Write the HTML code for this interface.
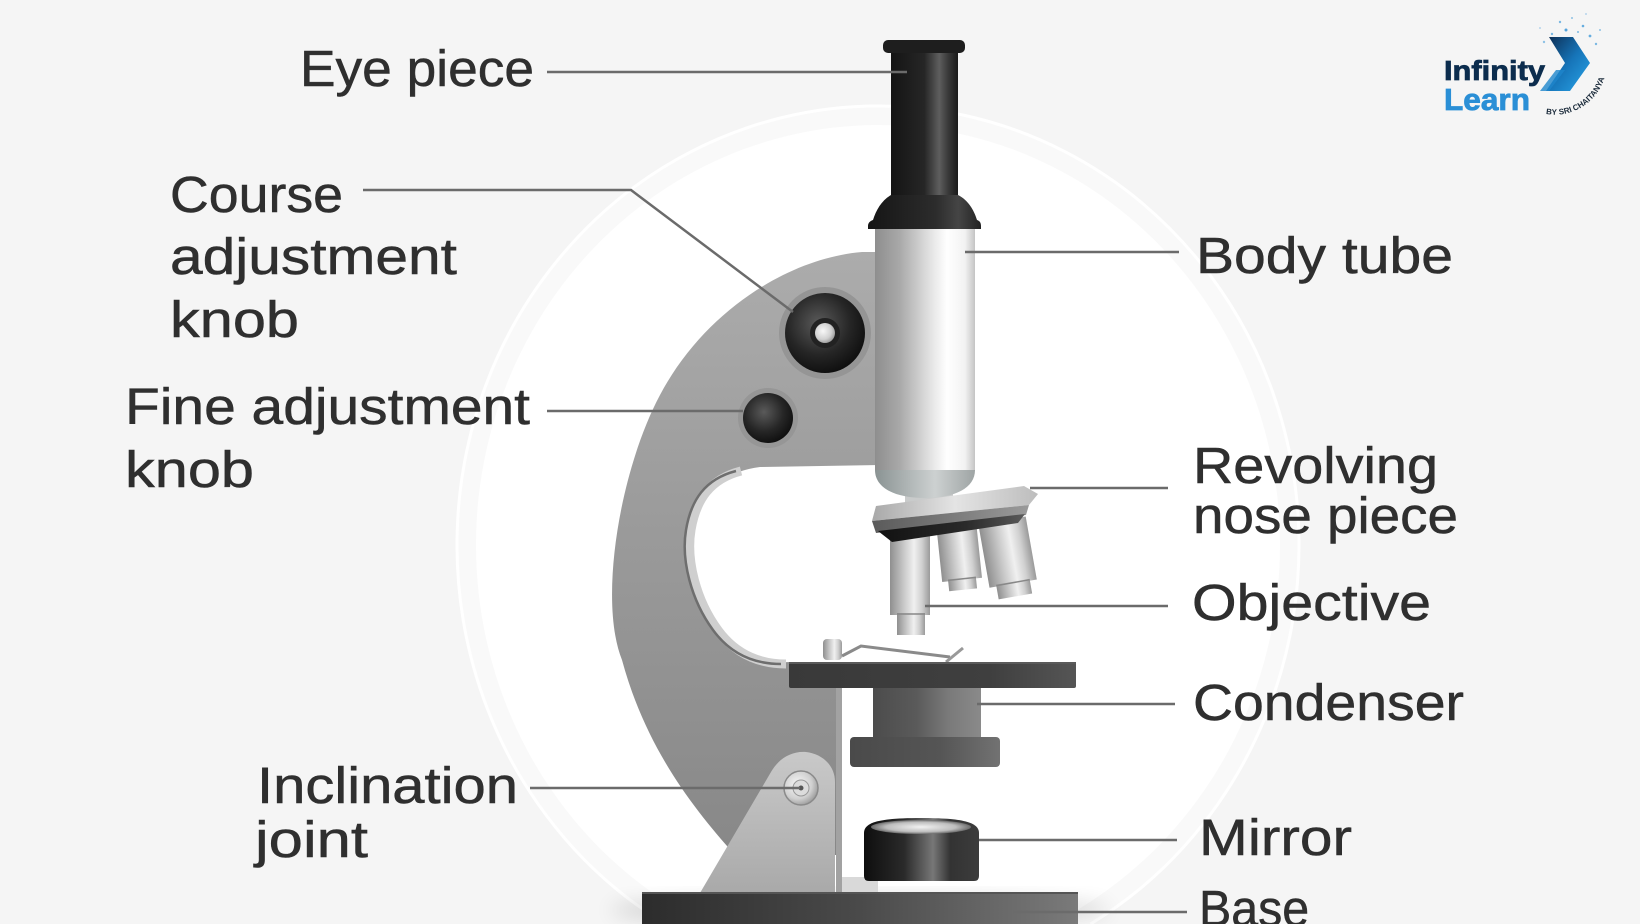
<!DOCTYPE html>
<html>
<head>
<meta charset="utf-8">
<style>
html,body{margin:0;padding:0;background:#f5f5f5;width:1640px;height:924px;overflow:hidden;}
body{position:relative;}
svg{display:block;overflow:hidden;}
text{font-family:"Liberation Sans",sans-serif;}
.base-lbl{position:absolute;left:1199px;top:883px;height:41px;width:130px;overflow:hidden;
  font-family:"Liberation Sans",sans-serif;font-size:51px;line-height:51px;color:#2f2f2f;
  -webkit-text-stroke:0.5px #2f2f2f;white-space:nowrap;transform:scaleX(0.948);transform-origin:0 0;}
</style>
</head>
<body>
<svg width="1640" height="924" viewBox="0 0 1640 924" xmlns="http://www.w3.org/2000/svg">
<defs>
  <clipPath id="frame"><rect x="0" y="0" width="1640" height="924"/></clipPath>
  <linearGradient id="arm" x1="0" y1="250" x2="0" y2="850" gradientUnits="userSpaceOnUse">
    <stop offset="0" stop-color="#acacac"/>
    <stop offset="0.45" stop-color="#9b9b9b"/>
    <stop offset="1" stop-color="#888888"/>
  </linearGradient>
  <linearGradient id="tube" x1="0" y1="0" x2="1" y2="0">
    <stop offset="0" stop-color="#8e8e8e"/>
    <stop offset="0.25" stop-color="#a9a9a9"/>
    <stop offset="0.55" stop-color="#e2e2e2"/>
    <stop offset="0.72" stop-color="#ffffff"/>
    <stop offset="0.9" stop-color="#f2f2f2"/>
    <stop offset="1" stop-color="#c4c4c4"/>
  </linearGradient>
  <linearGradient id="dome" x1="0" y1="0" x2="1" y2="0">
    <stop offset="0" stop-color="#8a9393"/>
    <stop offset="0.6" stop-color="#cdd1d1"/>
    <stop offset="1" stop-color="#9ea4a4"/>
  </linearGradient>
  <linearGradient id="eye" x1="0" y1="0" x2="1" y2="0">
    <stop offset="0" stop-color="#141414"/>
    <stop offset="0.5" stop-color="#262626"/>
    <stop offset="0.72" stop-color="#5e5e5e"/>
    <stop offset="0.85" stop-color="#3a3a3a"/>
    <stop offset="1" stop-color="#1a1a1a"/>
  </linearGradient>
  <linearGradient id="collar" x1="0" y1="0" x2="1" y2="0">
    <stop offset="0" stop-color="#151515"/>
    <stop offset="0.6" stop-color="#2c2c2c"/>
    <stop offset="0.8" stop-color="#454545"/>
    <stop offset="1" stop-color="#222"/>
  </linearGradient>
  <radialGradient id="knob" cx="0.42" cy="0.38" r="0.65">
    <stop offset="0" stop-color="#5a5a5a"/>
    <stop offset="0.6" stop-color="#262626"/>
    <stop offset="1" stop-color="#0e0e0e"/>
  </radialGradient>
  <radialGradient id="screw" cx="0.4" cy="0.4" r="0.7">
    <stop offset="0" stop-color="#f8f8f8"/>
    <stop offset="0.6" stop-color="#d0d0d0"/>
    <stop offset="1" stop-color="#8c8c8c"/>
  </radialGradient>
  <linearGradient id="metal" x1="0" y1="0" x2="1" y2="0">
    <stop offset="0" stop-color="#8f8f8f"/>
    <stop offset="0.35" stop-color="#c9c9c9"/>
    <stop offset="0.6" stop-color="#f0f0f0"/>
    <stop offset="0.8" stop-color="#d0d0d0"/>
    <stop offset="1" stop-color="#9a9a9a"/>
  </linearGradient>
  <linearGradient id="nose" x1="0" y1="0" x2="1" y2="0">
    <stop offset="0" stop-color="#a8a8a8"/>
    <stop offset="0.5" stop-color="#e4e4e4"/>
    <stop offset="1" stop-color="#bdbdbd"/>
  </linearGradient>
  <linearGradient id="noseband" x1="0" y1="0" x2="1" y2="0">
    <stop offset="0" stop-color="#5a5a5a"/>
    <stop offset="1" stop-color="#9a9a9a"/>
  </linearGradient>
  <linearGradient id="noseunder" x1="0" y1="0" x2="1" y2="0">
    <stop offset="0" stop-color="#111"/>
    <stop offset="0.6" stop-color="#2a2a2a"/>
    <stop offset="1" stop-color="#5a5a5a"/>
  </linearGradient>
  <linearGradient id="stage" x1="0" y1="0" x2="1" y2="0">
    <stop offset="0" stop-color="#393939"/>
    <stop offset="0.7" stop-color="#3f3f3f"/>
    <stop offset="1" stop-color="#555"/>
  </linearGradient>
  <linearGradient id="cond" x1="0" y1="0" x2="1" y2="0">
    <stop offset="0" stop-color="#4c4c4c"/>
    <stop offset="0.4" stop-color="#5a5a5a"/>
    <stop offset="0.7" stop-color="#7a7a7a"/>
    <stop offset="1" stop-color="#8a8a8a"/>
  </linearGradient>
  <linearGradient id="cond2" x1="0" y1="0" x2="1" y2="0">
    <stop offset="0" stop-color="#4a4a4a"/>
    <stop offset="0.6" stop-color="#555"/>
    <stop offset="1" stop-color="#727272"/>
  </linearGradient>
  <linearGradient id="mirror" x1="0" y1="0" x2="1" y2="0">
    <stop offset="0" stop-color="#0e0e0e"/>
    <stop offset="0.35" stop-color="#2a2a2a"/>
    <stop offset="0.6" stop-color="#777"/>
    <stop offset="0.75" stop-color="#333"/>
    <stop offset="1" stop-color="#3c3c3c"/>
  </linearGradient>
  <radialGradient id="mirrortop" cx="0.5" cy="0.5" r="0.5">
    <stop offset="0" stop-color="#f2f2f2"/>
    <stop offset="0.7" stop-color="#bdbdbd"/>
    <stop offset="1" stop-color="#6a6a6a"/>
  </radialGradient>
  <linearGradient id="base" x1="0" y1="0" x2="1" y2="0">
    <stop offset="0" stop-color="#2c2c2c"/>
    <stop offset="0.5" stop-color="#4a4a4a"/>
    <stop offset="1" stop-color="#7a7a7a"/>
  </linearGradient>
  <linearGradient id="plate" x1="0" y1="0" x2="0" y2="1">
    <stop offset="0" stop-color="#c9c9c9"/>
    <stop offset="1" stop-color="#a9a9a9"/>
  </linearGradient>
  <linearGradient id="chev" x1="0" y1="0" x2="1" y2="1">
    <stop offset="0" stop-color="#0d2b4f"/>
    <stop offset="0.5" stop-color="#1674b8"/>
    <stop offset="1" stop-color="#2aa6ea"/>
  </linearGradient>
  <filter id="blur" x="-20%" y="-50%" width="140%" height="200%">
    <feGaussianBlur stdDeviation="10"/>
  </filter>
  <path id="arc" d="M 1546 114 A 52 52 0 0 0 1606 54"/>
</defs>

<g clip-path="url(#frame)">
<!-- background -->
<rect x="0" y="0" width="1640" height="924" fill="#f5f5f5"/>
<path d="M 665.5 924 A 421 439 0 1 1 1090.5 924 Z" fill="#f9f9f9"/>
<path d="M 665.5 924 A 421 439 0 1 1 1090.5 924" fill="none" stroke="#ffffff" stroke-width="3"/>
<path d="M 704.7 924 A 402 420 0 1 1 1051.3 924 Z" fill="#ffffff"/>

<!-- base shadow -->
<ellipse cx="860" cy="910" rx="250" ry="12" fill="#000" opacity="0.18" filter="url(#blur)"/>

<!-- arm -->
<path d="M 880 252 L 862 252 C 790 258 705 310 660 395 C 620 470 598 600 622 660 C 645 745 690 805 735 855 L 842 855 L 842 662 L 790 662 C 760 664 738 652 722 630 C 700 600 690 560 695 530 C 700 495 720 472 760 467 L 880 465 Z" fill="url(#arm)"/>
<!-- cutout metallic rim -->
<path d="M 745 471 C 714 479 700 500 695 530 C 690 560 700 600 722 630 C 738 652 760 664 790 664" fill="none" stroke="#cfcfcf" stroke-width="9" transform="translate(-4,0)"/>
<path d="M 745 471 C 714 479 700 500 695 530 C 690 560 700 600 722 630 C 738 652 760 664 790 664" fill="none" stroke="#6e6e6e" stroke-width="2.5" transform="translate(-9,0)"/>

<!-- inclination plate -->
<path d="M 700 893 L 771 772 C 779 758 792 751 806 752 C 823 754 835 766 835 782 L 835 893 Z" fill="url(#plate)"/>
<rect x="836" y="688" width="6" height="205" fill="#a2a2a2"/>
<rect x="842" y="877" width="36" height="16" fill="#d9d9d9"/>
<circle cx="801" cy="788" r="17" fill="url(#screw)" stroke="#8a8a8a" stroke-width="1.5"/>
<circle cx="801" cy="788" r="8" fill="#dcdcdc" stroke="#999" stroke-width="1"/>
<circle cx="801" cy="788" r="2.5" fill="#555"/>

<!-- base -->
<rect x="642" y="892" width="436" height="32" fill="url(#base)"/>
<rect x="642" y="892" width="436" height="2" fill="#555"/>

<!-- mirror -->
<path d="M 864 833 C 864 822 880 818 921 818 C 962 818 979 822 979 833 L 979 876 Q 979 881 974 881 L 869 881 Q 864 881 864 876 Z" fill="url(#mirror)"/>
<ellipse cx="921" cy="827" rx="50" ry="7" fill="url(#mirrortop)"/>

<!-- stage clip -->
<polyline points="842,656 861,646 950,657" fill="none" stroke="#8a8a8a" stroke-width="3"/>
<line x1="963" y1="648" x2="946" y2="662" stroke="#999" stroke-width="3"/>
<rect x="823" y="639" width="19" height="21" rx="4" fill="url(#metal)"/>

<!-- stage -->
<rect x="789" y="662" width="287" height="26" rx="2" fill="url(#stage)"/>
<rect x="789" y="662" width="287" height="2" fill="#5a5a5a"/>

<!-- condenser -->
<rect x="873" y="688" width="108" height="49" fill="url(#cond)"/>
<rect x="850" y="737" width="150" height="30" rx="4" fill="url(#cond2)"/>

<!-- objectives -->
<g transform="rotate(-10 1009 560)">
  <rect x="985" y="520" width="48" height="64" fill="url(#metal)"/>
  <rect x="992" y="582" width="34" height="15" fill="url(#metal)"/>
  <line x1="992" y1="583" x2="1026" y2="583" stroke="#888" stroke-width="1.5"/>
</g>
<g transform="rotate(-6 960 560)">
  <rect x="940" y="528" width="40" height="52" fill="url(#metal)"/>
  <rect x="946" y="578" width="28" height="12" fill="url(#metal)"/>
  <line x1="946" y1="579" x2="974" y2="579" stroke="#888" stroke-width="1.5"/>
</g>
<rect x="890" y="536" width="40" height="79" fill="url(#metal)"/>
<rect x="897" y="613" width="28" height="22" fill="url(#metal)"/>
<line x1="897" y1="614" x2="925" y2="614" stroke="#888" stroke-width="1.5"/>

<!-- body tube -->
<rect x="875" y="225" width="100" height="246" fill="url(#tube)"/>
<rect x="905" y="494" width="48" height="14" fill="#c9cbcb"/>
<path d="M 875 470 L 975 470 C 975 488 955 498 925 498 C 895 498 875 488 875 470 Z" fill="url(#dome)"/>

<!-- nosepiece -->
<polygon points="876,506 1024,486 1038,494 1029,505 872,521" fill="url(#nose)"/>
<polygon points="872,521 1029,505 1026,515 876,533" fill="url(#noseband)"/>
<polygon points="878,531 1025,514 1018,523 892,542" fill="url(#noseunder)"/>

<!-- eyepiece -->
<rect x="891" y="50" width="67" height="150" fill="url(#eye)"/>
<rect x="883" y="40" width="82" height="13" rx="5" fill="#1e1e1e"/>
<path d="M 891 195 L 958 195 C 968 200 974 210 977 220 C 980 221 981 223 981 226 L 981 229 L 868 229 L 868 226 C 868 223 870 221 873 220 C 876 210 882 200 891 195 Z" fill="url(#collar)"/>

<!-- knobs -->
<circle cx="825" cy="333" r="46" fill="#959595"/>
<circle cx="825" cy="333" r="40" fill="url(#knob)"/>
<circle cx="825" cy="333" r="15" fill="#222"/>
<circle cx="825" cy="333" r="10" fill="url(#screw)"/>
<circle cx="768" cy="418" r="30" fill="#969696"/>
<circle cx="768" cy="418" r="25" fill="url(#knob)"/>

<!-- leader lines -->
<g stroke="#6b6b6b" stroke-width="2.5" fill="none">
  <line x1="547" y1="72" x2="907" y2="72"/>
  <polyline points="363,190 631,190 793,312"/>
  <line x1="547" y1="411" x2="743" y2="411"/>
  <line x1="530" y1="788" x2="800" y2="788"/>
  <line x1="965" y1="252" x2="1179" y2="252"/>
  <line x1="1030" y1="488" x2="1168" y2="488"/>
  <line x1="925" y1="606" x2="1168" y2="606"/>
  <line x1="977" y1="704" x2="1175" y2="704"/>
  <line x1="979" y1="840" x2="1177" y2="840"/>
  <line x1="1013" y1="912" x2="1187" y2="912"/>
</g>

<!-- labels -->
<g font-size="51" fill="#2f2f2f" stroke="#2f2f2f" stroke-width="0.5">
  <text x="300" y="86" textLength="234" lengthAdjust="spacingAndGlyphs">Eye piece</text>
  <text x="170" y="212" textLength="173" lengthAdjust="spacingAndGlyphs">Course</text>
  <text x="170" y="274" textLength="287" lengthAdjust="spacingAndGlyphs">adjustment</text>
  <text x="170" y="337" textLength="129" lengthAdjust="spacingAndGlyphs">knob</text>
  <text x="125" y="424" textLength="405" lengthAdjust="spacingAndGlyphs">Fine adjustment</text>
  <text x="125" y="487" textLength="129" lengthAdjust="spacingAndGlyphs">knob</text>
  <text x="257" y="803" textLength="261" lengthAdjust="spacingAndGlyphs">Inclination</text>
  <text x="255" y="857" textLength="113" lengthAdjust="spacingAndGlyphs">joint</text>
  <text x="1196" y="273" textLength="257" lengthAdjust="spacingAndGlyphs">Body tube</text>
  <text x="1193" y="483" textLength="245" lengthAdjust="spacingAndGlyphs">Revolving</text>
  <text x="1193" y="533" textLength="265" lengthAdjust="spacingAndGlyphs">nose piece</text>
  <text x="1192" y="620" textLength="239" lengthAdjust="spacingAndGlyphs">Objective</text>
  <text x="1193" y="720" textLength="271" lengthAdjust="spacingAndGlyphs">Condenser</text>
  <text x="1199" y="855" textLength="153" lengthAdjust="spacingAndGlyphs">Mirror</text>
</g>

<!-- logo -->
<g>
  <g fill="#2a8fd6">
    <circle cx="1560" cy="22" r="1.2" opacity="0.6"/>
    <circle cx="1572" cy="18" r="1" opacity="0.5"/>
    <circle cx="1583" cy="26" r="1.3" opacity="0.7"/>
    <circle cx="1566" cy="30" r="1.5" opacity="0.8"/>
    <circle cx="1552" cy="34" r="1.2" opacity="0.6"/>
    <circle cx="1590" cy="36" r="1.4" opacity="0.7"/>
    <circle cx="1578" cy="32" r="1" opacity="0.6"/>
    <circle cx="1544" cy="42" r="1.2" opacity="0.5"/>
    <circle cx="1596" cy="44" r="1.2" opacity="0.6"/>
    <circle cx="1586" cy="14" r="0.9" opacity="0.4"/>
    <circle cx="1540" cy="28" r="0.9" opacity="0.4"/>
    <circle cx="1600" cy="30" r="1" opacity="0.5"/>
  </g>
  <polygon points="1549,37 1573,37 1590,63 1570,91 1546,91 1565,63" fill="url(#chev)"/>
  <polygon points="1540,91 1556,70 1565,70 1549,91" fill="#1e86cc" opacity="0.8"/>
  <text x="1444" y="80" font-size="28" font-weight="bold" fill="#0c2d4e" stroke="#0c2d4e" stroke-width="0.8" textLength="101" lengthAdjust="spacingAndGlyphs">Infinity</text>
  <text x="1444" y="110" font-size="31" font-weight="bold" fill="#2a8fd6" stroke="#2a8fd6" stroke-width="0.8" textLength="86" lengthAdjust="spacingAndGlyphs">Learn</text>
  <text font-size="8" font-weight="bold" fill="#1a2a3a"><textPath href="#arc">BY SRI CHAITANYA</textPath></text>
</g>
</g>
</svg>
<div class="base-lbl">Base</div>
</body>
</html>
